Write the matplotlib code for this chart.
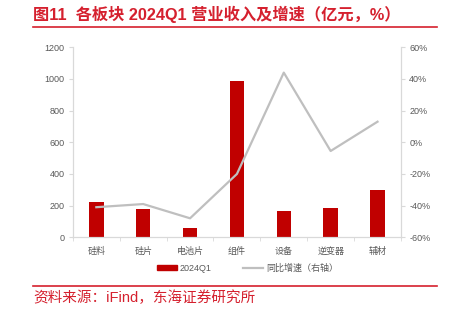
import numpy as np
import matplotlib.pyplot as plt
from matplotlib.lines import Line2D
from matplotlib.patches import Patch

plt.rcParams['font.family'] = ['Liberation Sans', 'Noto Sans CJK SC', 'DejaVu Sans']
plt.rcParams['axes.unicode_minus'] = False

# data
categories = ['硅料', '硅片', '电池片', '组件', '设备', '逆变器', '辅材']
revenue = [221, 177, 61, 989, 168, 183, 297]        # 亿元
growth = [-41, -39, -48, -20, 44, -5.5, 13]           # %
left_ticks = [0, 200, 400, 600, 800, 1000, 1200]
right_ticks = [-60, -40, -20, 0, 20, 40, 60]

red = '#C00000'
title_red = '#D5202E'
grey_line = '#BFBFBF'
axis_grey = '#D9D9D9'
text_grey = '#595959'

fig = plt.figure(figsize=(4.5, 3.11), dpi=100)
ax = fig.add_axes([0.162, 0.237, 0.729, 0.611])
x = np.arange(len(categories))

ax.bar(x, revenue, width=0.31, color=red, zorder=2)
ax.set_xlim(-0.5, len(categories) - 0.5)
ax.set_ylim(0, 1200)
ax.set_yticks(left_ticks)
ax.set_xticks(x)
ax.set_xticklabels(categories)
ax.set_xticks(np.arange(len(categories) + 1) - 0.5, minor=True)
ax.tick_params(axis='x', which='major', length=0, pad=7, labelsize=6.5, labelcolor=text_grey)
ax.tick_params(axis='x', which='minor', length=3, color=axis_grey)
ax.tick_params(axis='y', length=3, color=axis_grey, labelsize=6.5, labelcolor=text_grey, pad=3)
ax.spines['top'].set_visible(False)
for s in ['left', 'bottom', 'right']:
    ax.spines[s].set_color(axis_grey)

ax2 = ax.twinx()
ax2.plot(x, growth, color=grey_line, lw=1.6, zorder=3)
ax2.set_ylim(-60, 60)
ax2.set_yticks(right_ticks)
ax2.set_yticklabels([f'{v}%' for v in right_ticks])
ax2.tick_params(axis='y', length=3, color=axis_grey, labelsize=6.5, labelcolor=text_grey, pad=3)
ax2.spines['top'].set_visible(False)
for s in ['left', 'bottom', 'right']:
    ax2.spines[s].set_color(axis_grey)

# legend
handles = [Patch(color=red), Line2D([], [], color=grey_line, lw=1.6)]
fig.legend(handles, ['2024Q1', '同比增速（右轴）'], loc='center', bbox_to_anchor=(0.55, 0.138),
           ncol=2, frameon=False, fontsize=6.5, labelcolor=text_grey,
           handlelength=2.2, handleheight=0.5, columnspacing=3.5, handletextpad=0.3)

# title and source
fig.text(0.073, 0.955, '图11  各板块 2024Q1 营业收入及增速（亿元，%）', color=title_red,
         fontsize=11.7, fontweight='bold', va='center', ha='left')
fig.add_artist(Line2D([0.073, 0.971], [0.912, 0.912], color=title_red, lw=1.2))
fig.add_artist(Line2D([0.073, 0.971], [0.08, 0.08], color=title_red, lw=1.2))
fig.text(0.073, 0.042, '资料来源：iFind，东海证券研究所', color=title_red,
         fontsize=10.5, va='center', ha='left')

fig.savefig('out.png', dpi=100)
